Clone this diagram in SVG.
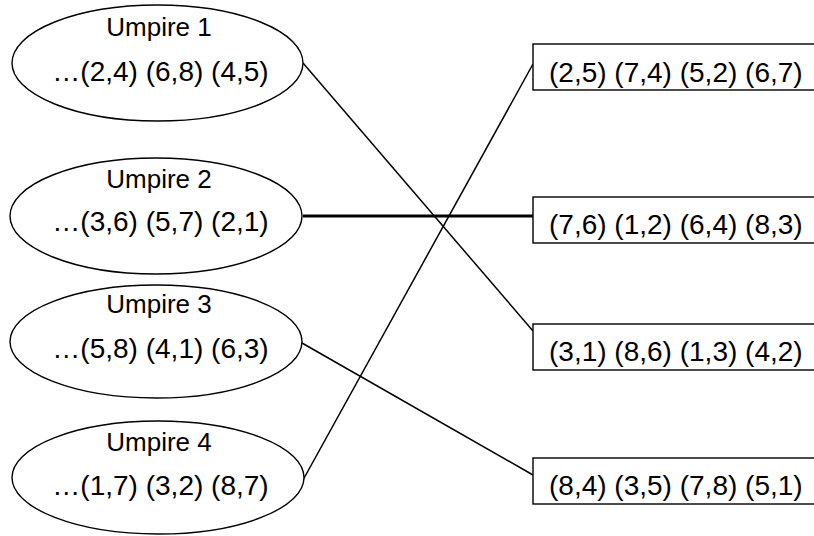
<svg xmlns="http://www.w3.org/2000/svg" width="814" height="536" viewBox="0 0 814 536">
  <style>
    .umpire ellipse { fill: #fff; stroke: #000; stroke-width: 1.4; }
    .queue rect { fill: #fff; stroke: #000; stroke-width: 1.4; }
    .title { font-family: "Liberation Sans", Arial, sans-serif; font-size: 26px; text-anchor: middle; fill: #000; }
    .pairs { font-family: "Liberation Sans", Arial, sans-serif; font-size: 28px; fill: #000; }
    .pairs.mid { text-anchor: middle; }
    #connectors line { stroke: #000; stroke-width: 1.5; }
    #connectors line.bold { stroke-width: 3; }
  </style>
  <rect width="814" height="536" fill="#fff"/>

  <!-- connectors between umpires and pair queues -->
  <g id="connectors">
    <line x1="303" y1="63" x2="533" y2="331"/>
    <line class="bold" x1="303" y1="216" x2="533" y2="216"/>
    <line x1="302" y1="343" x2="533" y2="475"/>
    <line x1="303" y1="480" x2="533" y2="64"/>
  </g>

  <!-- umpires -->
  <g id="umpire1" class="umpire">
    <ellipse cx="157.5" cy="63" rx="145.5" ry="58"/>
    <text class="title" x="159" y="36">Umpire 1</text>
    <text class="pairs mid" x="160.5" y="81">…(2,4) (6,8) (4,5)</text>
  </g>
  <g id="umpire2" class="umpire">
    <ellipse cx="156" cy="216" rx="146" ry="58"/>
    <text class="title" x="159" y="188">Umpire 2</text>
    <text class="pairs mid" x="160.5" y="231">…(3,6) (5,7) (2,1)</text>
  </g>
  <g id="umpire3" class="umpire">
    <ellipse cx="156" cy="341.5" rx="146" ry="56.5"/>
    <text class="title" x="159" y="313">Umpire 3</text>
    <text class="pairs mid" x="160.5" y="358">…(5,8) (4,1) (6,3)</text>
  </g>
  <g id="umpire4" class="umpire">
    <ellipse cx="158" cy="477.5" rx="146" ry="56.5"/>
    <text class="title" x="159" y="451">Umpire 4</text>
    <text class="pairs mid" x="160.5" y="495">…(1,7) (3,2) (8,7)</text>
  </g>

  <!-- pair queues -->
  <g id="queue1" class="queue">
    <rect x="533" y="44" width="300" height="46"/>
    <text class="pairs" x="549" y="82">(2,5) (7,4) (5,2) (6,7)</text>
  </g>
  <g id="queue2" class="queue">
    <rect x="533" y="197" width="300" height="46"/>
    <text class="pairs" x="549" y="234">(7,6) (1,2) (6,4) (8,3)</text>
  </g>
  <g id="queue3" class="queue">
    <rect x="533" y="324" width="300" height="46"/>
    <text class="pairs" x="549" y="361">(3,1) (8,6) (1,3) (4,2)</text>
  </g>
  <g id="queue4" class="queue">
    <rect x="533" y="458" width="300" height="46"/>
    <text class="pairs" x="549" y="495">(8,4) (3,5) (7,8) (5,1)</text>
  </g>
</svg>
